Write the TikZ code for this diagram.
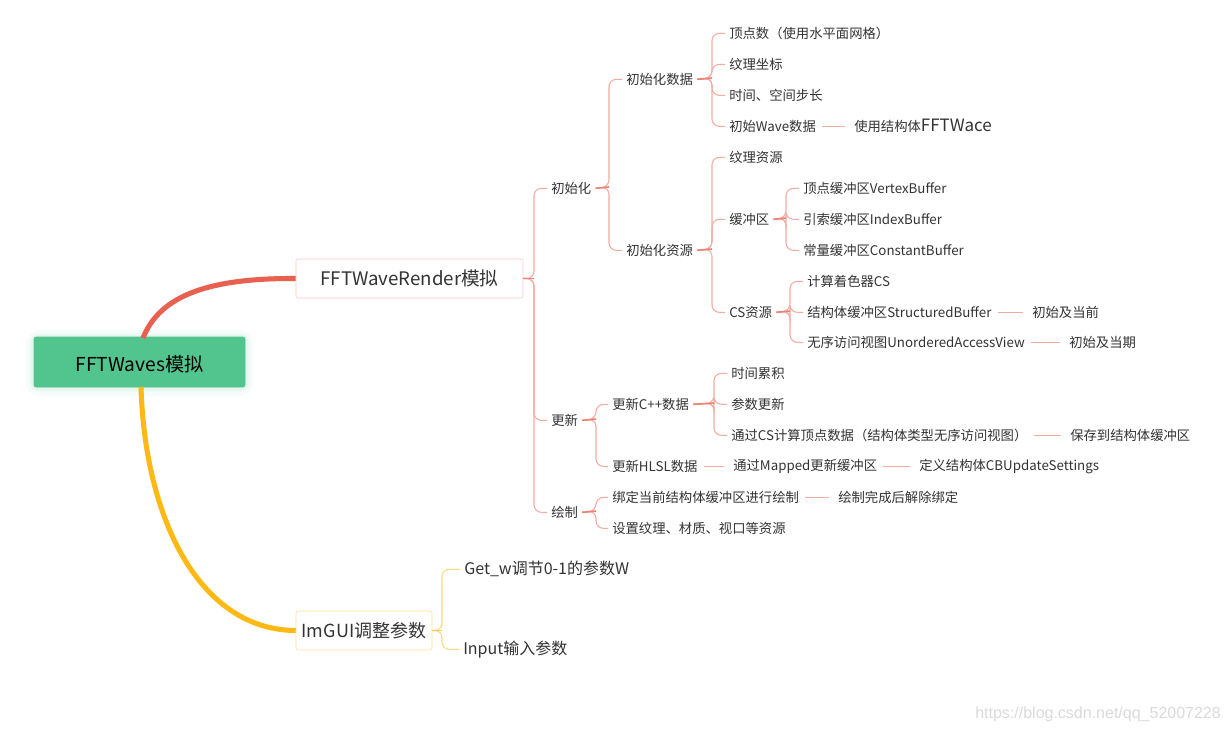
\documentclass[tikz,border=0pt]{standalone}
\usepackage{fontspec}
\setmainfont{Noto Sans CJK SC}
\newfontfamily\wmfont{Liberation Sans}
\definecolor{txt}{RGB}{51,51,51}
\definecolor{rootgreen}{RGB}{82,196,141}
\definecolor{redthick}{RGB}{232,96,80}
\definecolor{yelthick}{RGB}{255,185,20}
\definecolor{brred}{RGB}{244,172,162}
\definecolor{stubred}{RGB}{238,130,116}
\definecolor{bryel}{RGB}{255,216,130}
\definecolor{boxred}{RGB}{248,200,195}
\definecolor{boxyel}{RGB}{255,222,150}
\definecolor{wm}{RGB}{218,218,218}
\tikzset{
  leaf/.style={anchor=west, inner xsep=3pt, inner ysep=2pt, yshift=-1pt, text=txt, font=\fontsize{10pt}{12pt}\selectfont},
  bigleaf/.style={anchor=west, inner xsep=3pt, inner ysep=2pt, yshift=-1pt, text=txt, font=\fontsize{12pt}{14pt}\selectfont},
  br/.style={draw=brred, line width=0.8pt, rounded corners=5.5pt},
  stub/.style={draw=stubred, line width=1.2pt},
  bry/.style={draw=bryel, line width=0.8pt, rounded corners=5.5pt},
  stuby/.style={draw=yelthick!75, line width=1.2pt},
  chain/.style={draw=brred, line width=0.8pt, shorten <=1.5pt, shorten >=4pt},
}
\begin{document}
\begin{tikzpicture}[x=0.75pt,y=-0.75pt]
\useasboundingbox (0,0) rectangle (1228,732);
\fill[white] (0,0) rectangle (1228,732);

% root glow
\fill[rootgreen!5, rounded corners=10pt] (26,330) rectangle (253,396);
\fill[rootgreen!9, rounded corners=8pt] (29,333) rectangle (250,392);
\fill[rootgreen!15, rounded corners=5pt] (31,335) rectangle (248,390);
\node[draw=rootgreen, fill=rootgreen, rounded corners=1.5pt, minimum width=158.25pt, minimum height=37.5pt, inner sep=0pt, text height=16pt, text depth=2pt, font=\fontsize{14.4pt}{17pt}\selectfont, text=black] (root) at (139.5,362) {FFTWaves模拟};

\node[draw=boxred, fill=white, rounded corners=1.5pt, minimum width=170.25pt, minimum height=29.25pt, inner sep=0pt, font=\fontsize{14pt}{16pt}\selectfont, text=txt] (render) at (409.5,278.5) {FFTWaveRender模拟};

\node[draw=boxyel, fill=white, rounded corners=1.5pt, minimum width=102pt, minimum height=29.25pt, inner sep=0pt, font=\fontsize{13.5pt}{16pt}\selectfont, text=txt] (imgui) at (364,630.5) {ImGUI调整参数};

% thick main branches
\draw[redthick, line width=3.8pt] (143,338) .. controls (160,295) and (210,278) .. (render.west);
\draw[yelthick, line width=3.8pt] (141,387) .. controls (145,520) and (200,630) .. (imgui.west);

% level 1
\node[leaf] (init) at (547,187) {初始化};
\node[leaf] (upd)  at (547,419) {更新};
\node[leaf] (drw)  at (547,511) {绘制};

% level 2
\node[leaf] (initdata) at (622,78)  {初始化数据};
\node[leaf] (initres)  at (622,249) {初始化资源};
\node[leaf] (cpp)      at (608,403) {更新C++数据};
\node[leaf] (hlsl)     at (608,465) {更新HLSL数据};
\node[leaf] (bind)     at (608,496) {绑定当前结构体缓冲区进行绘制};
\node[leaf] (setres)   at (608,527) {设置纹理、材质、视口等资源};

% level 3
\node[leaf] (v1) at (725,32)  {顶点数（使用水平面网格）};
\node[leaf] (v2) at (725,63)  {纹理坐标};
\node[leaf] (v3) at (725,94)  {时间、空间步长};
\node[leaf] (v4) at (725,125) {初始Wave数据};
\node[leaf] (v4a) at (850,125) {使用结构体{\fontsize{12.75pt}{14pt}\selectfont FFTWace}};

\node[leaf] (res1) at (725,156) {纹理资源};
\node[leaf] (buf)  at (725,218) {缓冲区};
\node[leaf] (cs)   at (725,311) {CS资源};

\node[leaf] (b1) at (799,187) {顶点缓冲区VertexBuffer};
\node[leaf] (b2) at (799,218) {引索缓冲区IndexBuffer};
\node[leaf] (b3) at (799,249) {常量缓冲区ConstantBuffer};

\node[leaf] (c1) at (803,280) {计算着色器CS};
\node[leaf] (c2) at (803,311) {结构体缓冲区StructuredBuffer};
\node[leaf] (c2a) at (1028,311) {初始及当前};
\node[leaf] (c3) at (803,341) {无序访问视图UnorderedAccessView};
\node[leaf] (c3a) at (1065,341) {初始及当期};

\node[leaf] (u1) at (727,372) {时间累积};
\node[leaf] (u2) at (727,403) {参数更新};
\node[leaf] (u3) at (727,434) {通过CS计算顶点数据（结构体类型无序访问视图）};
\node[leaf] (u3a) at (1066,434) {保存到结构体缓冲区};

\node[leaf] (h1) at (729,465) {通过Mapped更新缓冲区};
\node[leaf] (h2) at (915,465) {定义结构体CBUpdateSettings};

\node[leaf] (bd1) at (834,496) {绘制完成后解除绑定};

\node[bigleaf] (g1) at (460,568) {Get\_w调节0-1的参数W};
\node[bigleaf] (g2) at (459,648) {Input输入参数};

% bracket points
\coordinate (k-render)   at (534,278.5);
\coordinate (k-init)     at (609,187);
\coordinate (k-upd)      at (596,419);
\coordinate (k-drw)      at (596,511);
\coordinate (k-initdata) at (712,78);
\coordinate (k-initres)  at (712,249);
\coordinate (k-cpp)      at (714,403);
\coordinate (k-buf)      at (786,218);
\coordinate (k-cs)       at (790,311);
\coordinate (k-imgui)    at (442,630.5);

% brackets
\foreach \c in {init,upd,drw} \draw[br] (render.east) -- (k-render) |- (\c.west);
\draw[stub] (render.east) -- (k-render);
\foreach \c in {initdata,initres} \draw[br] (init.east) -- (k-init) |- (\c.west);
\draw[stub] (init.east) -- (k-init);
\foreach \c in {cpp,hlsl} \draw[br] (upd.east) -- (k-upd) |- (\c.west);
\draw[stub] (upd.east) -- (k-upd);
\foreach \c in {bind,setres} \draw[br] (drw.east) -- (k-drw) |- (\c.west);
\draw[stub] (drw.east) -- (k-drw);
\foreach \c in {v1,v2,v3,v4} \draw[br] (initdata.east) -- (k-initdata) |- (\c.west);
\draw[stub] (initdata.east) -- (k-initdata);
\foreach \c in {res1,buf,cs} \draw[br] (initres.east) -- (k-initres) |- (\c.west);
\draw[stub] (initres.east) -- (k-initres);
\foreach \c in {u1,u2,u3} \draw[br] (cpp.east) -- (k-cpp) |- (\c.west);
\draw[stub] (cpp.east) -- (k-cpp);
\foreach \c in {b1,b2,b3} \draw[br] (buf.east) -- (k-buf) |- (\c.west);
\draw[stub] (buf.east) -- (k-buf);
\foreach \c in {c1,c2,c3} \draw[br] (cs.east) -- (k-cs) |- (\c.west);
\draw[stub] (cs.east) -- (k-cs);
\foreach \c in {g1,g2} \draw[bry] (imgui.east) -- (k-imgui) |- (\c.west);
\draw[stuby] (imgui.east) -- (k-imgui);

% chains
\draw[chain] (v4.east) -- (v4a.west);
\draw[chain] (c2.east) -- (c2a.west);
\draw[chain] (c3.east) -- (c3a.west);
\draw[chain] (u3.east) -- (u3a.west);
\draw[chain] (hlsl.east) -- (h1.west);
\draw[chain] (h1.east) -- (h2.west);
\draw[chain] (bind.east) -- (bd1.west);

% watermark
\node[anchor=west, inner sep=0pt, text=wm, font=\wmfont\fontsize{12pt}{14pt}\selectfont] (wmark) at (975,714) {https://blog.csdn.net/qq\_52007228};
\end{tikzpicture}
\end{document}
